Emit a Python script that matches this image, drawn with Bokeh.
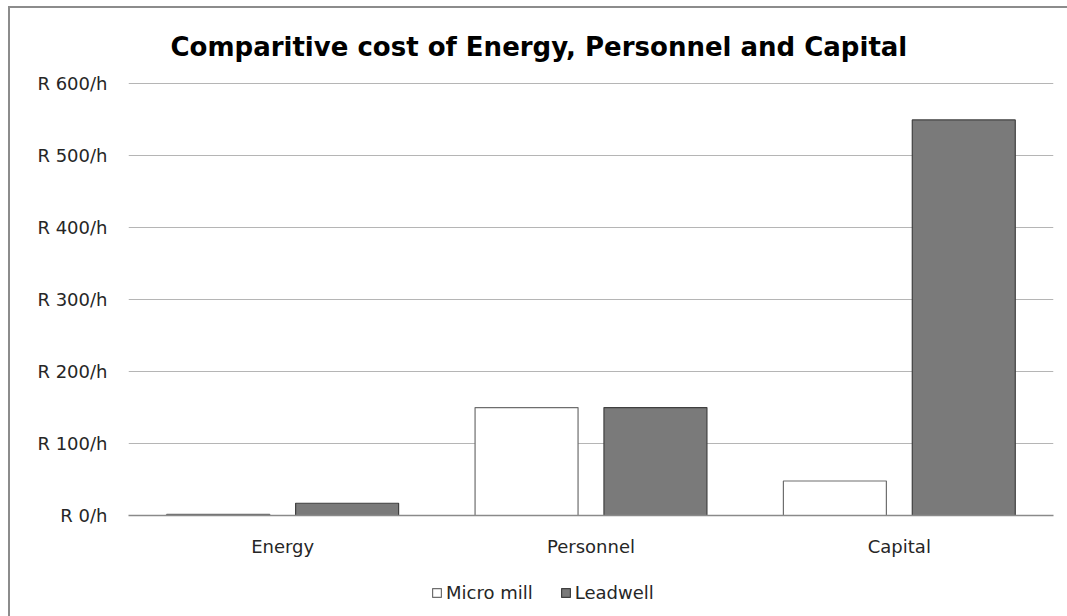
from bokeh.plotting import figure
from bokeh.layouts import column
from bokeh.models import ColumnDataSource, FactorRange, Range1d, FixedTicker, Legend, LegendItem
from bokeh.transform import dodge
from bokeh.embed import file_html
from bokeh.resources import INLINE

categories = ["Energy", "Personnel", "Capital"]
micro_mill = [1.5, 150, 48]
leadwell = [17, 150, 550]
y_ticks = [0, 100, 200, 300, 400, 500, 600]
y_tick_labels = ["R 0/h", "R 100/h", "R 200/h", "R 300/h", "R 400/h", "R 500/h", "R 600/h"]
title_text = "Comparitive cost of Energy, Personnel and Capital"
series_names = ["Micro mill", "Leadwell"]

FONT = "DejaVu Sans"
MICRO_STYLE = dict(fill_color="white", line_color="#6e6e6e", line_width=1.2)
LEAD_STYLE = dict(fill_color="#7a7a7a", line_color="#404040", line_width=1.2)

src = ColumnDataSource(dict(cat=categories, micro=micro_mill, lead=leadwell))

# main chart
p = figure(width=1057, height=557, output_backend="svg", toolbar_location=None,
           x_range=FactorRange(factors=categories), y_range=Range1d(0, 602),
           min_border_left=118, min_border_right=14, min_border_top=74, min_border_bottom=50)

p.title.text = title_text
p.title.align = "left"
p.title.offset = 42
p.title.text_font = FONT
p.title.text_font_size = "26px"
p.title.text_font_style = "bold"
p.title.text_color = "#000000"
p.title.standoff = 42

p.outline_line_color = None
p.background_fill_color = "white"
p.border_fill_color = "white"

p.vbar(x=dodge("cat", -0.209, range=p.x_range), top="micro", width=0.334, source=src, **MICRO_STYLE)
p.vbar(x=dodge("cat", 0.209, range=p.x_range), top="lead", width=0.334, source=src, **LEAD_STYLE)

p.yaxis.ticker = FixedTicker(ticks=y_ticks)
p.yaxis.major_label_overrides = {t: l for t, l in zip(y_ticks, y_tick_labels)}
p.yaxis.axis_line_color = None
p.yaxis.major_tick_line_color = None
p.yaxis.minor_tick_line_color = None
p.yaxis.major_label_standoff = 15
p.yaxis.major_label_text_font = FONT
p.yaxis.major_label_text_font_size = "18px"
p.yaxis.major_label_text_color = "#262626"

p.xaxis.axis_line_color = "#8a8a8a"
p.xaxis.axis_line_width = 1.5
p.xaxis.major_tick_line_color = None
p.xaxis.minor_tick_line_color = None
p.xaxis.major_label_standoff = 14
p.xaxis.major_label_text_font = FONT
p.xaxis.major_label_text_font_size = "18px"
p.xaxis.major_label_text_color = "#262626"

p.xgrid.grid_line_color = None
p.ygrid.ticker = FixedTicker(ticks=y_ticks)
p.ygrid.grid_line_color = "#b5b5b5"
p.ygrid.grid_line_width = 1

# legend strip below the chart (bars here sit outside the visible range; only the legend shows)
q = figure(width=1057, height=52, output_backend="svg", toolbar_location=None,
           x_range=FactorRange(factors=categories), y_range=Range1d(1000, 1001),
           min_border=0)
q.axis.visible = False
q.grid.grid_line_color = None
q.outline_line_color = None
q.background_fill_color = "white"
q.border_fill_color = "white"
l1 = q.vbar(x=dodge("cat", -0.209, range=q.x_range), top="micro", width=0.334, source=src, **MICRO_STYLE)
l2 = q.vbar(x=dodge("cat", 0.209, range=q.x_range), top="lead", width=0.334, source=src, **LEAD_STYLE)

legend = Legend(items=[LegendItem(label=series_names[0], renderers=[l1]),
                       LegendItem(label=series_names[1], renderers=[l2])],
                orientation="horizontal", location=(303, 14),
                label_text_font=FONT, label_text_font_size="18px",
                label_text_color="#262626", glyph_width=11, glyph_height=11,
                label_standoff=4, spacing=27, border_line_color=None,
                background_fill_alpha=0, padding=0, margin=0)
q.add_layout(legend, "center")

layout = column(p, q, spacing=0)
layout.styles = {"border-left": "2px solid #8c8c8c", "border-top": "2px solid #8c8c8c",
                 "margin-left": "8px", "margin-top": "6px"}

open("out.html", "w").write(file_html(layout, INLINE))
